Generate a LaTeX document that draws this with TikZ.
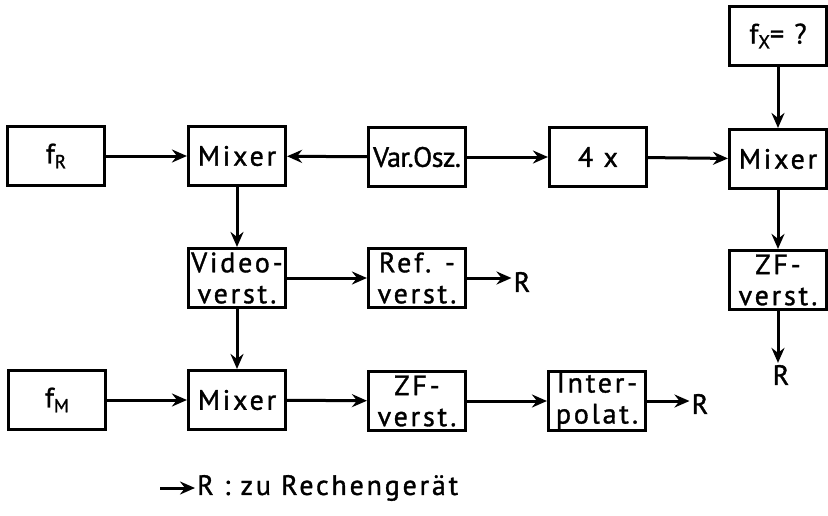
\documentclass[tikz,border=0pt]{standalone}
\usepackage{fontspec}
\setmainfont{PT Sans}[LetterSpace=10, FakeBold=1.2]
\usetikzlibrary{arrows.meta}
\newcommand\diafont{\fontsize{28}{31}\selectfont}
\newcommand\subfont{\fontsize{19}{20}\selectfont}
\newcommand\subR[1]{\raisebox{-0.35ex}{\subfont #1}}
\begin{document}
\begin{tikzpicture}[x=1pt,y=-1pt,
  box/.style={draw, line width=3.1pt, minimum width=97pt, minimum height=59pt,
    inner sep=1pt, align=center, font=\diafont},
  conn/.style={line width=3pt, -{Stealth[length=15pt,width=13pt,inset=5pt]}},
  lab/.style={inner sep=2pt, font=\diafont}]
\useasboundingbox (0,0) rectangle (828,515);
% top row
\node[box] (fR)   at (56,156)  {f\subR{R}};
\node[box] (mix1) at (237,156) {Mixer};
\node[box] (osz)  at (417,157) {\addfontfeature{LetterSpace=-2}Var.Osz.};
\node[box] (four) at (598,157) {4 x};
\node[box] (mixR) at (778,159) {Mixer};
\node[box] (fx)   at (778,36)  {f\subR{X}= ?};
% middle row
\node[box] (video) at (237,278) {Video-\\verst.};
\node[box] (ref)   at (417,278) {Ref. -\\verst.};
\node[box] (zfR)   at (778,280) {ZF-\\verst.};
% bottom row
\node[box] (fM)     at (57,400)  {f\subR{M}};
\node[box] (mix2)   at (237,400) {Mixer};
\node[box] (zf2)    at (417,401) {ZF-\\verst.};
\node[box] (interp) at (597,401) {Inter-\\polat.};
% R labels
\node[lab] (Rref) at (522,282) {R};
\node[lab] (RzfR) at (781,375) {R};
\node[lab] (Rint) at (700,404) {R};
% legend
\coordinate (legstart) at (160,488);
\node[lab, anchor=west] (legend) at (195,488) {R : zu Rechengerät};
% connectors
\draw[conn] (fR) -- (mix1);
\draw[conn] (osz) -- (mix1);
\draw[conn] (osz) -- (four);
\draw[conn] (four) -- (mixR);
\draw[conn] (fx) -- (mixR);
\draw[conn] (mixR) -- (zfR);
\draw[conn] (zfR.south) -- (zfR.south |- RzfR.north);
\draw[conn] (mix1) -- (video);
\draw[conn] (video) -- (ref);
\draw[conn] (ref.east) -- (Rref.west |- ref.east);
\draw[conn] (video) -- (mix2);
\draw[conn] (fM) -- (mix2);
\draw[conn] (mix2) -- (zf2);
\draw[conn] (zf2) -- (interp);
\draw[conn] (interp.east) -- (Rint.west |- interp.east);
\draw[conn] (legstart) -- (legend.west);
\end{tikzpicture}
\end{document}
